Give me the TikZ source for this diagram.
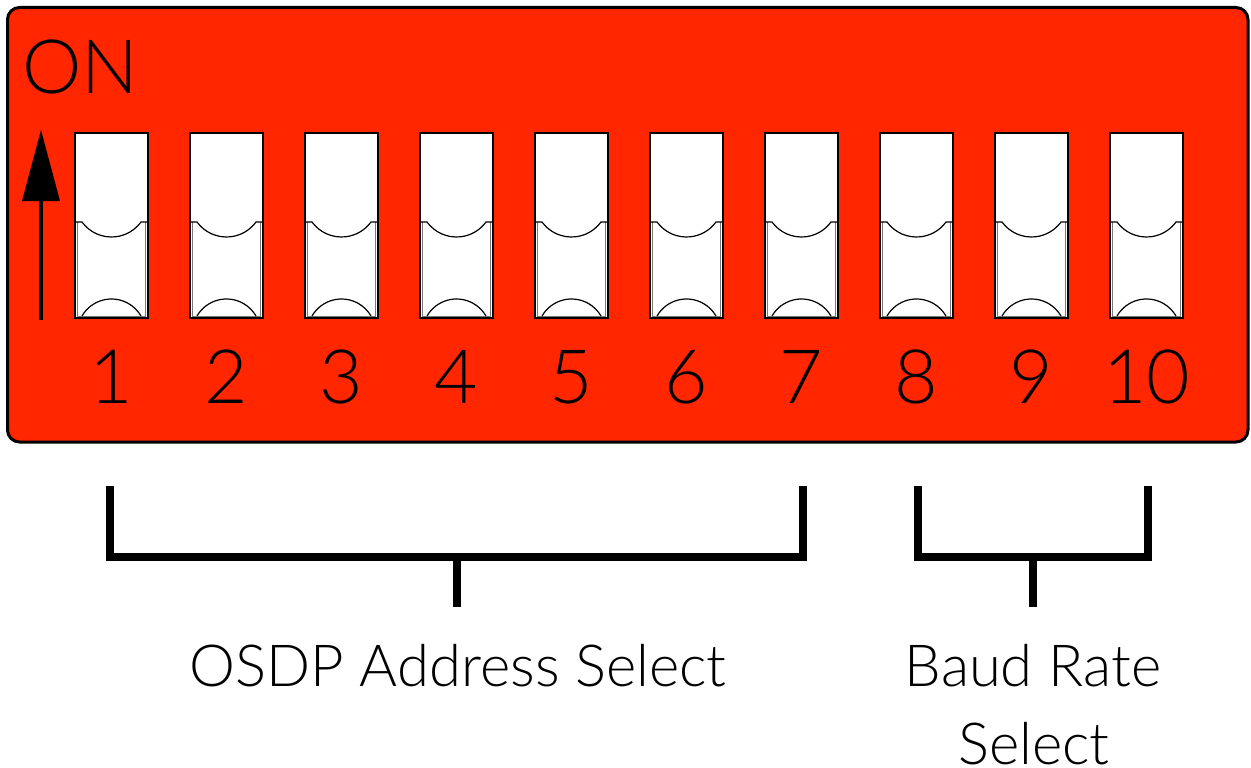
\documentclass[tikz,border=0pt]{standalone}
\usepackage{fontspec}
\setmainfont{Lato Light}
\definecolor{panelred}{RGB}{255,38,0}
\definecolor{knobgray}{RGB}{120,120,120}
\tikzset{
  panel/.style={fill=panelred, draw=black, line width=3pt, rounded corners=12pt},
  swbody/.style={fill=white, draw=black, line width=2pt},
  swline/.style={draw=black, line width=1.2pt},
  knobedge/.style={draw=knobgray, line width=1pt},
  bracket/.style={draw=black, line width=8pt, line join=miter},
  digit/.style={font=\fontsize{75}{80}\selectfont, anchor=base, inner sep=0pt},
  caption/.style={font=\fontsize{58}{64}\selectfont, anchor=base, inner sep=0pt},
}
\begin{document}
\begin{tikzpicture}[x=1pt,y=-1pt]
\useasboundingbox (0,0) rectangle (1251,768);
% panel
\draw[panel] (7.5,7.5) rectangle (1248,442);
% ON label
\node[font=\fontsize{75}{80}\selectfont, anchor=base west, inner sep=0pt] (on) at (22,93) {ON};
% arrow
\draw[line width=4pt] (41,320) -- (41,195);
\fill (22,201) -- (60,201) -- (41,130) -- cycle;
% switches
\foreach \i in {0,...,9}{
  \pgfmathsetmacro{\xo}{75+115*\i}
  \draw[swbody] (\xo,133) rectangle (\xo+73,318);
  \draw[knobedge] (\xo+2.5,222) -- (\xo+2.5,316) -- (\xo+70.5,316) -- (\xo+70.5,222);
  \draw[swline] (\xo+1,222) -- (\xo+7,222) arc[start angle=143.9, end angle=36.1, radius=36.5] -- (\xo+72,222);
  \draw[swline] (\xo+7,316) arc[start angle=210.1, end angle=329.9, radius=34.1];
}
% digits
\foreach \i/\t in {0/1,1/2,2/3,3/4,4/5,5/6,6/7,7/8,8/9,9/10}{
  \node[digit] (d\i) at ({111.5+115*\i},403) {\t};
}
% brackets
\draw[bracket] (110,486) -- (110,557) -- (803,557) -- (803,486);
\draw[bracket] (457,557) -- (457,607);
\draw[bracket] (918,486) -- (918,557) -- (1148,557) -- (1148,486);
\draw[bracket] (1033,557) -- (1033,607);
% captions
\node[caption] (osdp) at (458,686) {OSDP Address Select};
\node[caption] (baud) at (1033,686) {Baud Rate};
\node[caption] (sel) at (1034,764) {Select};
\end{tikzpicture}
\end{document}
